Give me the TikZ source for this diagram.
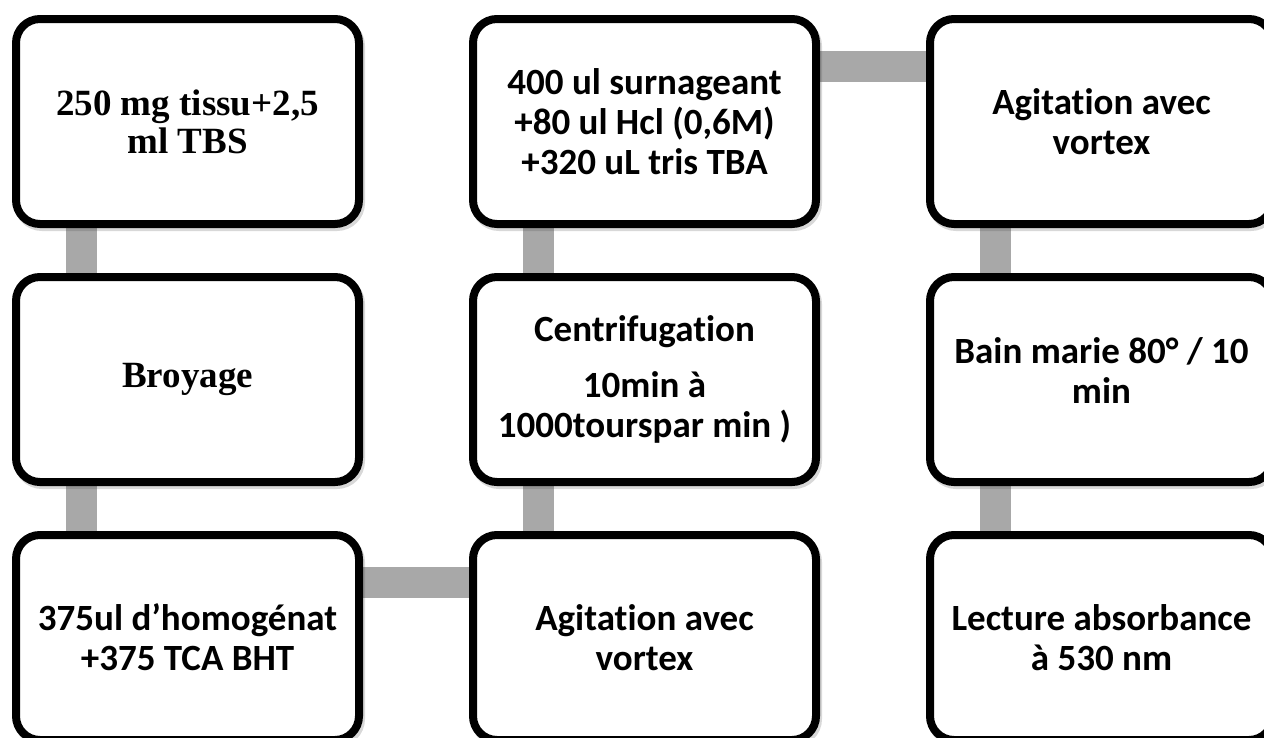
\documentclass[tikz,border=0pt]{standalone}
\usepackage{fontspec}
\setmainfont{Liberation Serif}
\newfontfamily\calfont[Ligatures=NoCommon]{Carlito}
\usetikzlibrary{backgrounds,shadows}
\definecolor{conn}{RGB}{168,168,168}
\begin{document}
\begin{tikzpicture}[x=1pt,y=-1pt,
  stepbox/.style={draw=black, line width=8pt, rounded corners=24pt, fill=white,
    minimum width=343pt, minimum height=205pt, inner sep=0pt, align=center,
    general shadow={draw=black!70, fill=black!70, line width=8pt, opacity=0.22,
      shadow xshift=2pt, shadow yshift=-3pt}},
  sertext/.style={font=\bfseries\fontsize{37}{38}\selectfont},
  caltext/.style={font=\calfont\bfseries\fontsize{37}{40}\selectfont},
  link/.style={draw=conn, line width=31pt}]
\useasboundingbox (0,0) rectangle (1264,737);
\clip (0,0) rectangle (1264,737);
% column 1
\node[stepbox, sertext] (a1) at (187.5,121.5) {250 mg tissu+2,5\\ml TBS};
\node[stepbox, sertext] (a2) at (187.5,379.5) {Broyage};
\node[stepbox, caltext] (a3) at (187.5,637.5) {375ul d’homogénat\\+375 TCA BHT};
% column 2
\node[stepbox, caltext] (b3) at (644.5,637.5) {Agitation avec\\vortex};
\node[stepbox, caltext] (b2) at (644.5,379.5) {Centrifugation\\[16pt]10min à\\1000tourspar min )};
\node[stepbox, caltext] (b1) at (644.5,121.5) {400 ul surnageant\\+80 ul Hcl (0,6M)\\+320 uL tris TBA};
% column 3
\node[stepbox, caltext] (c1) at (1101.5,121.5) {Agitation avec\\vortex};
\node[stepbox, caltext] (c2) at (1101.5,379.5) {Bain marie 80° / 10\\min\\[-22pt]\mbox{}};
\node[stepbox, caltext] (c3) at (1101.5,637.5) {Lecture absorbance\\à 530 nm};
\begin{scope}[on background layer]
  \draw[link] ([xshift=69pt]a1.south west) -- ([xshift=69pt]a2.north west);
  \draw[link] ([xshift=69pt]a2.south west) -- ([xshift=69pt]a3.north west);
  \draw[link] ([yshift=-51pt]a3.north east) -- ([yshift=-51pt]b3.north west);
  \draw[link] ([xshift=69pt]b3.north west) -- ([xshift=69pt]b2.south west);
  \draw[link] ([xshift=69pt]b2.north west) -- ([xshift=69pt]b1.south west);
  \draw[link] ([yshift=-51pt]b1.north east) -- ([yshift=-51pt]c1.north west);
  \draw[link] ([xshift=69pt]c1.south west) -- ([xshift=69pt]c2.north west);
  \draw[link] ([xshift=69pt]c2.south west) -- ([xshift=69pt]c3.north west);
\end{scope}
\end{tikzpicture}
\end{document}
